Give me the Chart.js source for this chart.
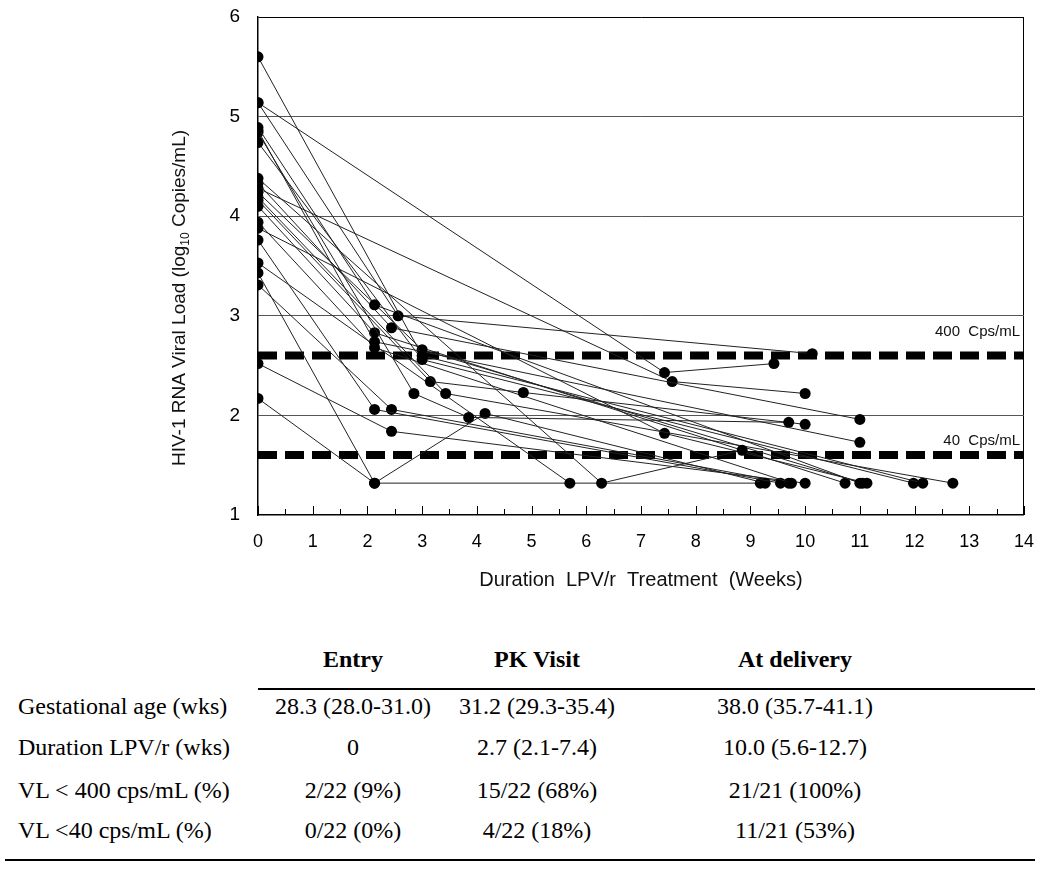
<!DOCTYPE html>
<html>
<head>
<meta charset="utf-8">
<script src="https://cdn.jsdelivr.net/npm/chart.js@4.4.0/dist/chart.umd.min.js"></script>
<style>
  body { margin: 0; background: #fff; width: 1050px; height: 869px; position: relative; overflow: hidden; }
  #wrap { position: absolute; left: 0; top: 0; width: 1050px; height: 600px; }
  .t { position: absolute; font-family: "Liberation Serif", "Times New Roman", serif; font-size: 24px; color: #000; white-space: nowrap; line-height: 24px; }
  .c { transform: translateX(-50%); }
  .b { font-weight: bold; }
  .rule { position: absolute; background: #000; }
</style>
</head>
<body>
<div id="wrap"><canvas id="c"></canvas></div>
<div id="tbl"></div>
<script>
// viral load (log10) at entry, PK visit, optional extra visit, delivery
const entryVL = [5.60, 5.14, 5.14, 4.89, 4.86, 4.84, 4.74, 4.38, 4.33, 4.28, 4.24, 4.19, 4.16, 4.10, 3.94, 3.88, 3.76, 3.53, 3.43, 3.31, 2.52, 2.17];
const pkWeek = [3.0, 7.43, 2.56, 2.13, 2.13, 2.85, 3.0, 6.28, 2.44, 7.57, 3.0, 3.43, 3.15, 2.13, 2.13, 7.43, 2.13, 5.7, 2.13, 2.44, 2.44, 2.13];
const pkVL = [2.60, 2.43, 3.00, 3.11, 2.74, 2.22, 2.56, 1.32, 2.88, 2.34, 2.66, 2.22, 2.34, 2.83, 2.68, 1.82, 2.06, 1.32, 1.32, 2.06, 1.84, 1.32];
const midWeek = [null, null, null, null, null, 3.85, null, null, null, null, null, null, 4.85, null, null, null, null, null, 4.15, null, null, null];
const midVL = [null, null, null, null, null, 1.98, null, null, null, null, null, null, 2.23, null, null, null, null, null, 2.02, null, null, null];
const delWeek = [12.15, 9.43, 10.13, 11.0, 11.0, 9.7, 11.98, 8.85, 11.0, 10.0, 11.05, 12.7, 10.0, 10.73, 9.75, 11.13, 9.55, null, 9.27, 9.7, 10.0, 9.18];
const delVL = [1.32, 2.52, 2.62, 1.32, 1.73, 1.93, 1.32, 1.65, 1.96, 2.22, 1.32, 1.32, 1.91, 1.32, 1.32, 1.32, 1.32, null, 1.32, 1.32, 1.32, 1.32];

// 400 and 40 copies/mL cut-offs
const cutoffVL = [2.602, 1.602];
const cutoffLabels = ["400  Cps/mL", "40  Cps/mL"];

// table under the chart
const colHeads = ["Entry", "PK Visit", "At delivery"];
const rowLabels = ["Gestational age (wks)", "Duration LPV/r (wks)", "VL < 400 cps/mL (%)", "VL <40 cps/mL (%)"];
const entryCol = ["28.3 (28.0-31.0)", "0", "2/22 (9%)", "0/22 (0%)"];
const pkCol = ["31.2 (29.3-35.4)", "2.7 (2.1-7.4)", "15/22 (68%)", "4/22 (18%)"];
const delCol = ["38.0 (35.7-41.1)", "10.0 (5.6-12.7)", "21/21 (100%)", "11/21 (53%)"];

const sans = "'Liberation Sans', Arial, sans-serif";

const patients = entryVL.map((v, i) => {
  const pts = [{ x: 0, y: v }, { x: pkWeek[i], y: pkVL[i] }];
  if (midWeek[i] != null) pts.push({ x: midWeek[i], y: midVL[i] });
  if (delWeek[i] != null) pts.push({ x: delWeek[i], y: delVL[i] });
  return {
    data: pts,
    borderColor: "#222",
    borderWidth: 1,
    pointRadius: 5.5,
    pointBackgroundColor: "#000",
    pointBorderWidth: 0,
    order: 0,
  };
});

const cutoffs = cutoffVL.map((c) => ({
  data: [{ x: 0, y: c }, { x: 14, y: c }],
  borderColor: "#000",
  borderWidth: 8,
  borderDash: [19, 8],
  pointRadius: 0,
  order: 1,
}));

const extras = {
  id: "extras",
  afterDraw(chart) {
    const { ctx, chartArea } = chart;
    const xs = chart.scales.x;
    const ys = chart.scales.y;
    ctx.save();
    // inner tick marks on the x axis
    ctx.strokeStyle = "#000";
    ctx.lineWidth = 1;
    for (let i = 0; i <= 28; i++) {
      const px = Math.round(xs.getPixelForValue(i / 2)) + 0.5;
      const len = i % 2 === 0 ? 9 : 6;
      ctx.beginPath();
      ctx.moveTo(px, chartArea.bottom);
      ctx.lineTo(px, chartArea.bottom - len);
      ctx.stroke();
    }
    // cut-off labels
    ctx.fillStyle = "#111";
    ctx.font = "15px " + sans;
    ctx.textAlign = "right";
    ctx.textBaseline = "middle";
    ctx.fillText(cutoffLabels[0], chartArea.right - 4, ys.getPixelForValue(cutoffVL[0]) - 24);
    ctx.fillText(cutoffLabels[1], chartArea.right - 4, ys.getPixelForValue(cutoffVL[1]) - 14);
    // y axis title with subscript
    ctx.translate(180, 298);
    ctx.rotate(-Math.PI / 2);
    const big = "19px " + sans;
    const small = "12px " + sans;
    const parts = [["HIV-1 RNA Viral Load (log", big, 0], ["10", small, 6], [" Copies/mL)", big, 0]];
    let w = 0;
    parts.forEach((p) => { ctx.font = p[1]; w += ctx.measureText(p[0]).width; });
    let x = -w / 2;
    ctx.textAlign = "left";
    parts.forEach((p) => {
      ctx.font = p[1];
      ctx.fillText(p[0], x, p[2]);
      x += ctx.measureText(p[0]).width;
    });
    ctx.restore();
  },
};

new Chart(document.getElementById("c"), {
  type: "line",
  data: { datasets: [...patients, ...cutoffs] },
  options: {
    responsive: true,
    maintainAspectRatio: false,
    animation: false,
    layout: { padding: { left: 0, right: 22, top: 17, bottom: 0 } },
    plugins: { legend: { display: false }, tooltip: { enabled: false } },
    scales: {
      x: {
        type: "linear",
        min: 0,
        max: 14,
        afterFit: (s) => { s.height = 85; },
        ticks: { stepSize: 1, padding: 16, color: "#000", font: { family: sans, size: 18 } },
        grid: {
          drawTicks: false,
          color: (c) => (c.tick && c.tick.value === 14 ? "#000" : "rgba(0,0,0,0)"),
        },
        border: { color: "#000", width: 1.5 },
        title: {
          display: true,
          text: "Duration  LPV/r  Treatment  (Weeks)",
          color: "#111",
          font: { family: sans, size: 20 },
          padding: { top: 0, bottom: 8 },
        },
      },
      y: {
        min: 1,
        max: 6,
        afterFit: (s) => { s.width = 258; s.paddingTop = 0; s.paddingBottom = 0; },
        ticks: { stepSize: 1, padding: 18, color: "#000", font: { family: sans, size: 19 } },
        grid: {
          drawTicks: false,
          color: (c) => (c.tick.value === 6 ? "#000" : c.tick.value === 1 ? "rgba(0,0,0,0)" : "#555"),
        },
        border: { color: "#000", width: 1.5 },
      },
    },
  },
  plugins: [extras],
});

// table
const tbl = document.getElementById("tbl");
const colX = [353, 537, 795];
const headY = 647;
const rowY = [694, 735, 778, 818];
function put(text, x, y, cls) {
  const d = document.createElement("div");
  d.className = "t " + cls;
  d.style.left = x + "px";
  d.style.top = y + "px";
  d.textContent = text;
  tbl.appendChild(d);
}
colHeads.forEach((h, j) => put(h, colX[j], headY, "c b"));
[entryCol, pkCol, delCol].forEach((col, j) => col.forEach((v, i) => put(v, colX[j], rowY[i], "c")));
rowLabels.forEach((r, i) => put(r, 18, rowY[i], ""));
function rule(x, y, w, h) {
  const d = document.createElement("div");
  d.className = "rule";
  Object.assign(d.style, { left: x + "px", top: y + "px", width: w + "px", height: h + "px" });
  tbl.appendChild(d);
}
rule(258, 688, 777, 2);
rule(5, 859, 1030, 2);
</script>
</body>
</html>
